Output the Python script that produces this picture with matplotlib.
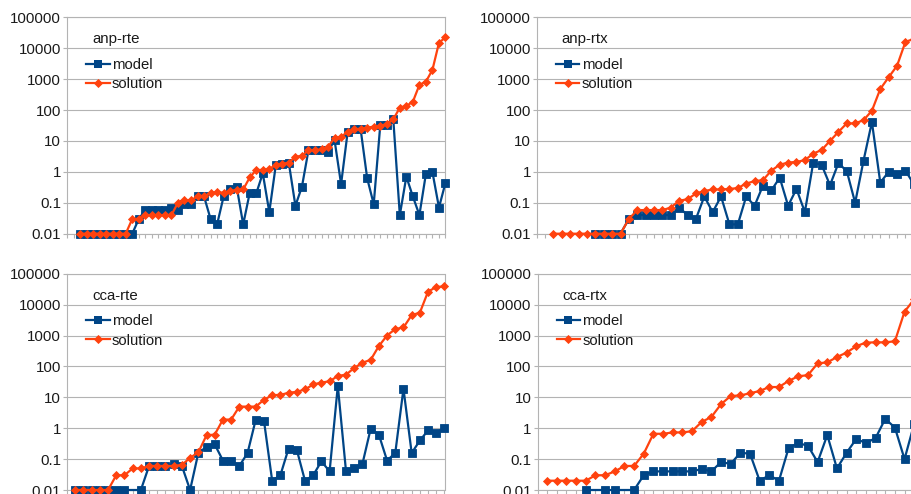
import numpy as np
import matplotlib
matplotlib.use("Agg")
import matplotlib.pyplot as plt
from matplotlib.lines import Line2D
from matplotlib.ticker import FuncFormatter, NullLocator

nan = np.nan

# run times per instance (0 -> not drawable on log axis, kept as nan)
anp_rte_model = [nan, nan,
                 0.01, 0.01, 0.01, 0.01, 0.01, 0.01, 0.01, 0.01, 0.01, 0.03,
                 0.058, 0.058, 0.058, 0.058, 0.066, 0.058, 0.09, 0.09, 0.16, 0.16,
                 0.03, 0.02, 0.16, 0.27, 0.33, 0.02, 0.21, 0.2, 0.9, 0.05,
                 1.67, 1.8, 1.9, 0.08, 0.33, 5.0, 5.0, 5.2, 4.5, 10.6,
                 0.4, 19, 23.5, 23.5, 0.62, 0.09, 32, 32, 50, 0.04,
                 0.7, 0.16, 0.04, 0.87, 0.98, 0.07, 0.45]
anp_rte_solution = [nan, nan,
                    0.01, 0.01, 0.01, 0.01, 0.01, 0.01, 0.01, 0.01, 0.03, 0.03,
                    0.04, 0.04, 0.04, 0.04, 0.04, 0.1, 0.12, 0.12, 0.16, 0.16,
                    0.21, 0.22, 0.21, 0.24, 0.26, 0.27, 0.66, 1.15, 1.15, 1.25,
                    1.67, 1.8, 2.0, 3.1, 3.3, 5.0, 5.1, 5.3, 6.5, 12.5,
                    13.7, 19.5, 23.5, 25, 27, 29, 31, 35, 50, 120,
                    135, 186, 650, 830, 2000, 15000, 22500]

anp_rtx_model = [nan, nan,
                 nan, nan, nan, nan, nan, 0.01, 0.01, 0.01, 0.01, 0.03,
                 0.04, 0.04, 0.04, 0.04, 0.04, 0.07, 0.04, 0.03, 0.16, 0.05,
                 0.16, 0.02, 0.02, 0.16, 0.08, 0.36, 0.25, 0.65, 0.08, 0.28,
                 0.05, 2.0, 1.7, 0.37, 1.9, 1.07, 0.1, 2.3, 41, 0.45,
                 1.0, 0.83, 1.1, 0.4]
anp_rtx_solution = [nan, nan,
                    0.01, 0.01, 0.01, 0.01, 0.01, 0.01, 0.01, 0.01, 0.01, 0.03,
                    0.058, 0.058, 0.058, 0.058, 0.07, 0.117, 0.13, 0.2, 0.24, 0.27,
                    0.27, 0.28, 0.3, 0.42, 0.5, 0.54, 1.1, 1.7, 2.0, 2.1,
                    2.4, 3.9, 5.1, 10, 19.5, 37, 37, 47, 95, 480,
                    1150, 2700, 16000, 20000]

cca_rte_model = [nan,
                 0.01, 0.01, 0.01, 0.01, 0.01, 0.01, 0.01, nan, 0.01, 0.06,
                 0.06, 0.06, 0.07, 0.06, 0.01, 0.157, 0.25, 0.3, 0.09, 0.09,
                 0.06, 0.157, 1.9, 1.75, 0.02, 0.03, 0.22, 0.2, 0.02, 0.03,
                 0.085, 0.04, 23.5, 0.04, 0.05, 0.07, 0.95, 0.62, 0.09, 0.157,
                 19, 0.157, 0.4, 0.85, 0.7, 1.05]
cca_rte_solution = [nan,
                    0.01, 0.01, 0.01, 0.01, 0.01, 0.03, 0.03, 0.05, 0.05, 0.06,
                    0.06, 0.06, 0.06, 0.065, 0.11, 0.165, 0.59, 0.62, 1.9, 1.9,
                    5.0, 5.0, 5.0, 8.3, 11.7, 12, 14, 15, 18, 26,
                    30, 33, 49, 54, 89, 132, 162, 455, 1000, 1620,
                    1820, 4560, 5500, 26500, 37000, 39000]

cca_rtx_model = [nan,
                 nan, nan, nan, nan, 0.01, nan, 0.01, 0.01, nan, 0.01,
                 0.03, 0.04, 0.04, 0.04, 0.04, 0.04, 0.048, 0.04, 0.08, 0.07,
                 0.16, 0.15, 0.02, 0.03, 0.02, 0.23, 0.33, 0.27, 0.08, 0.6,
                 0.05, 0.16, 0.45, 0.33, 0.48, 2.0, 1.05, 0.1, 1.4]
cca_rtx_solution = [nan,
                    0.02, 0.02, 0.02, 0.02, 0.02, 0.03, 0.03, 0.04, 0.06, 0.06,
                    0.15, 0.66, 0.66, 0.73, 0.73, 0.8, 1.6, 2.3, 6, 11,
                    11.5, 13.5, 16, 21.5, 21.5, 34, 48, 52, 125, 135,
                    200, 280, 450, 590, 600, 600, 650, 5900, 15000]

titles = ["anp-rte", "anp-rtx", "cca-rte", "cca-rtx"]
series_names = ["model", "solution"]

BLUE = "#004586"
ORANGE = "#ff420e"
GRID = "#b3b3b3"
TEXT = "#1a1a1a"

plt.rcParams["font.family"] = ["Liberation Sans", "DejaVu Sans"]

W, H = 911, 494
fig = plt.figure(figsize=(W / 100, H / 100), dpi=100)

# panel boxes in pixels: left, top, right, bottom
boxes = [(67, 17.3, 445.5, 233.7),
         (536.7, 17.3, 913.8, 233.7),
         (67, 273.7, 444.5, 490),
         (537.5, 273.7, 914.2, 490)]


def draw_panel(box, title, model, solution):
    left, top, right, bottom = box
    ax = fig.add_axes([left / W, 1 - bottom / H, (right - left) / W, (bottom - top) / H])
    model = np.array(model, dtype=float)
    solution = np.array(solution, dtype=float)
    x = np.arange(len(model))

    # missing values are skipped, line continues to the next point
    for y, color, marker, ms in [(model, BLUE, "s", 6.4), (solution, ORANGE, "D", 3.9)]:
        m = ~np.isnan(y)
        ax.plot(x[m], y[m], color=color, lw=1.6, marker=marker, ms=ms,
                mec=color, mew=0.6, clip_on=False, zorder=3)

    ax.set_yscale("log")
    ax.set_ylim(0.01, 100000)
    ax.set_xlim(0, len(model) - 1)
    ax.set_yticks([10.0 ** k for k in range(-2, 6)])
    ax.yaxis.set_minor_locator(NullLocator())
    ax.yaxis.set_major_formatter(FuncFormatter(lambda v, p: "%g" % v))
    ax.set_xticks(x)
    ax.set_xticklabels([])
    ax.xaxis.set_minor_locator(NullLocator())

    ax.yaxis.grid(True, color=GRID, lw=0.8)
    ax.set_axisbelow(True)
    for s in ax.spines.values():
        s.set_color(GRID)
        s.set_linewidth(0.8)
    ax.tick_params(axis="y", length=2.7, width=0.8, color=GRID, pad=1.5,
                   labelsize=10.8, labelcolor=TEXT)
    ax.tick_params(axis="x", length=2.7, width=0.8, color=GRID)

    # legend with its caption above the entries
    fig.text((left + 25) / W, 1 - (top + 22) / H, title, fontsize=10.8,
             color=TEXT, va="center", ha="left")
    handles = [Line2D([], [], color=BLUE, lw=1.6, marker="s", ms=6.4, mew=0),
               Line2D([], [], color=ORANGE, lw=1.6, marker="D", ms=3.9, mew=0.6)]
    ax.legend(handles, series_names, loc="upper left",
              bbox_to_anchor=((left + 19) / W, 1 - (top + 40.5) / H),
              bbox_transform=fig.transFigure, frameon=False, fontsize=10.7,
              borderpad=0, borderaxespad=0, handlelength=1.6, handletextpad=0.14,
              labelspacing=0.36, numpoints=1, labelcolor=TEXT)
    return ax


draw_panel(boxes[0], titles[0], anp_rte_model, anp_rte_solution)
draw_panel(boxes[1], titles[1], anp_rtx_model, anp_rtx_solution)
draw_panel(boxes[2], titles[2], cca_rte_model, cca_rte_solution)
draw_panel(boxes[3], titles[3], cca_rtx_model, cca_rtx_solution)

fig.savefig("out.png", dpi=100)
